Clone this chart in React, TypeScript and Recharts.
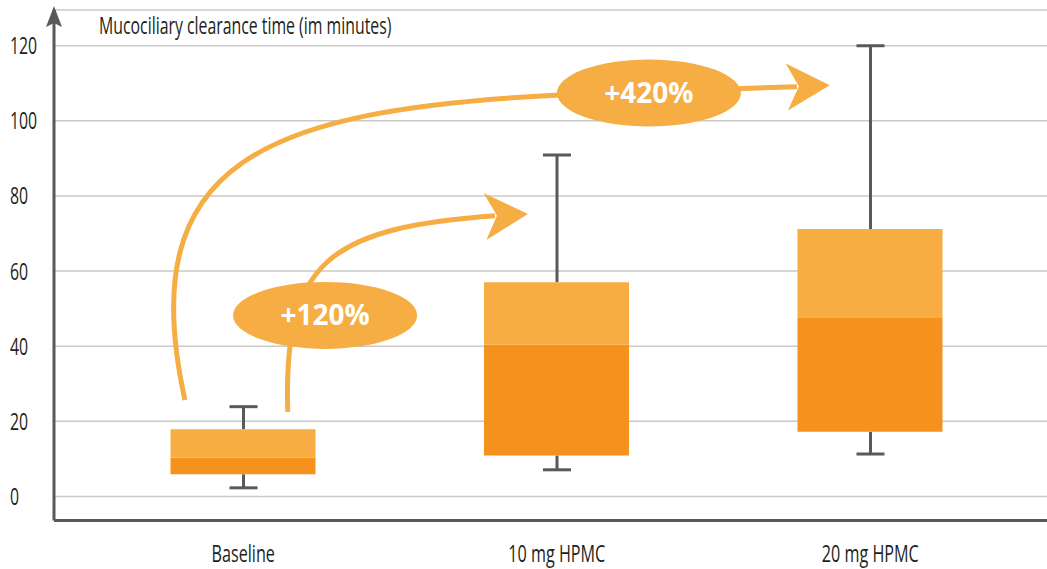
import {
  ComposedChart,
  Bar,
  XAxis,
  YAxis,
  CartesianGrid,
  ReferenceLine,
} from 'recharts';

const categories = ['Baseline', '10 mg HPMC', '20 mg HPMC'];
const whiskerMin = [2.3, 7.1, 11.3];
const quartile1 = [5.9, 10.9, 17.2];
const medians = [10.3, 40.4, 47.5];
const quartile3 = [17.9, 57.0, 71.2];
const whiskerMax = [23.9, 90.9, 120];
const yTicks = [0, 20, 40, 60, 80, 100, 120];

const yTitle = 'Mucociliary clearance time (im minutes)';

// change arrows, points are [category index, minutes]
const gain120 = {
  label: '+120%',
  bubble: [0.261, 48.2],
  curve: [[0.142, 22.5], [0.127, 62.9], [0.277, 71.5], [0.803, 74.7]],
  lineTo: null as number[] | null,
  tip: [0.908, 75.2],
};
const gain420 = {
  label: '+420%',
  bubble: [1.294, 107.4],
  curve: [[-0.186, 25.7], [-0.355, 89.6], [0.07, 102.9], [1.01, 106.9]],
  lineTo: [1.766, 109.1] as number[] | null,
  tip: [1.871, 109.5],
};

const LIGHT = '#F7AD42';
const DARK = '#F5921E';
const ACCENT = '#F6AD43';
const AXIS = '#58595B';
const GRID = '#C9C9C9';
const FONT = '"Open Sans", "DejaVu Sans", sans-serif';

const rows = categories.map((name, i) => ({
  name,
  min: whiskerMin[i],
  max: whiskerMax[i],
  q1: quartile1[i],
  q3: quartile3[i],
  lower: medians[i] - quartile1[i],
  upper: quartile3[i] - medians[i],
}));

// condensed look: squeeze glyphs horizontally
function Narrow({ x, y, size, anchor, children }: any) {
  return (
    <text
      transform={`translate(${x},${y}) scale(0.66,1)`}
      fontSize={size}
      fontFamily={FONT}
      fill="#231F20"
      textAnchor={anchor}
    >
      {children}
    </text>
  );
}

const YTick = ({ y, payload }: any) => (
  <Narrow x={10} y={y + 8.5} size={24} anchor="start">
    {payload.value}
  </Narrow>
);

const XTick = ({ x, y, payload }: any) => (
  <Narrow x={x} y={y + 33} size={24.5} anchor="middle">
    {payload.value}
  </Narrow>
);

// whisker drawn only outside the box, positions interpolated inside the bar's own pixel span
const Whisker = ({ x, y, width, height, payload }: any) => {
  const cx = x + width / 2;
  const k = height / (payload.max - payload.min);
  const yTop = y + (payload.max - payload.q3) * k;
  const yBot = y + (payload.max - payload.q1) * k;
  return (
    <g stroke={AXIS} strokeWidth={3}>
      <line x1={cx} x2={cx} y1={y} y2={yTop} />
      <line x1={cx} x2={cx} y1={yBot} y2={y + height} />
      <line x1={x} x2={x + width} y1={y} y2={y} />
      <line x1={x} x2={x + width} y1={y + height} y2={y + height} />
    </g>
  );
};

const AxisHead = ({ viewBox }: any) => {
  const { x, y, width } = viewBox;
  const ax = x + width;
  return (
    <g>
      <path
        d={`M${ax},${y - 4} L${ax + 8},${y + 17} L${ax},${y + 13} L${ax - 8},${y + 17} Z`}
        fill={AXIS}
      />
      <Narrow x={ax + 45} y={y + 23.5} size={24} anchor="start">
        {yTitle}
      </Narrow>
    </g>
  );
};

// reference segment from (first category, 0) to (last category, 120) gives the scale
const Annotations = ({ x1, y1, x2, y2 }: any) => {
  const px = (i: number) => x1 + (i * (x2 - x1)) / (categories.length - 1);
  const py = (v: number) =>
    y1 + ((v - yTicks[0]) * (y2 - y1)) / (yTicks[yTicks.length - 1] - yTicks[0]);
  const pt = (p: number[]) => [px(p[0]), py(p[1])];

  const renderGain = (g: typeof gain120) => {
    const [a, b, c, d] = g.curve.map(pt);
    const end = g.lineTo ? pt(g.lineTo) : d;
    const tip = pt(g.tip);
    let dx = tip[0] - end[0];
    let dy = tip[1] - end[1];
    const len = Math.hypot(dx, dy);
    dx /= len;
    dy /= len;
    const back = [tip[0] - dx * 43, tip[1] - dy * 43];
    const notch = [tip[0] - dx * 31, tip[1] - dy * 31];
    const c1 = [back[0] - dy * 23.5, back[1] + dx * 23.5];
    const c2 = [back[0] + dy * 23.5, back[1] - dx * 23.5];
    const [bx, by] = pt(g.bubble);
    let d0 = `M${a[0]},${a[1]} C${b[0]},${b[1]} ${c[0]},${c[1]} ${d[0]},${d[1]}`;
    if (g.lineTo) d0 += ` L${end[0]},${end[1]}`;
    return (
      <g key={g.label}>
        <path d={d0} fill="none" stroke={ACCENT} strokeWidth={5} />
        <path
          d={`M${tip[0]},${tip[1]} L${c1[0]},${c1[1]} L${notch[0]},${notch[1]} L${c2[0]},${c2[1]} Z`}
          fill={ACCENT}
        />
        <ellipse cx={bx} cy={by} rx={92} ry={33.5} fill={ACCENT} />
        <text
          x={bx}
          y={by + 10}
          textAnchor="middle"
          fontSize={28}
          fontWeight={700}
          fontFamily={FONT}
          fill="#fff"
        >
          {g.label}
        </text>
      </g>
    );
  };

  return (
    <g>
      {renderGain(gain420)}
      {renderGain(gain120)}
    </g>
  );
};

export default function App() {
  return (
    <div style={{ position: 'absolute', left: 0, top: 0 }}>
      <ComposedChart
        width={1047}
        height={569}
        data={rows}
        margin={{ top: 10, right: 0, bottom: 0, left: 0 }}
      >
        <CartesianGrid vertical={false} stroke={GRID} strokeWidth={1.5} />
        <XAxis
          dataKey="name"
          height={48.5}
          padding={{ left: 32.5, right: 20 }}
          axisLine={{ stroke: AXIS, strokeWidth: 3 }}
          tickLine={false}
          tick={<XTick />}
          interval={0}
        />
        <XAxis
          xAxisId="whisker"
          dataKey="name"
          hide
          padding={{ left: 32.5, right: 20 }}
        />
        <YAxis
          width={54}
          domain={[-6.4, 129.5]}
          ticks={yTicks}
          allowDataOverflow
          axisLine={{ stroke: AXIS, strokeWidth: 3 }}
          tickLine={false}
          tick={<YTick />}
          label={{ content: AxisHead }}
        />
        <Bar
          xAxisId="whisker"
          dataKey={(d: any) => [d.min, d.max]}
          barSize={28}
          shape={Whisker}
          isAnimationActive={false}
        />
        <Bar dataKey="q1" stackId="box" fill="transparent" barSize={145} isAnimationActive={false} />
        <Bar dataKey="lower" stackId="box" fill={DARK} barSize={145} isAnimationActive={false} />
        <Bar dataKey="upper" stackId="box" fill={LIGHT} barSize={145} isAnimationActive={false} />
        <ReferenceLine
          segment={[
            { x: categories[0], y: yTicks[0] },
            { x: categories[categories.length - 1], y: yTicks[yTicks.length - 1] },
          ]}
          shape={Annotations}
        />
      </ComposedChart>
    </div>
  );
}
